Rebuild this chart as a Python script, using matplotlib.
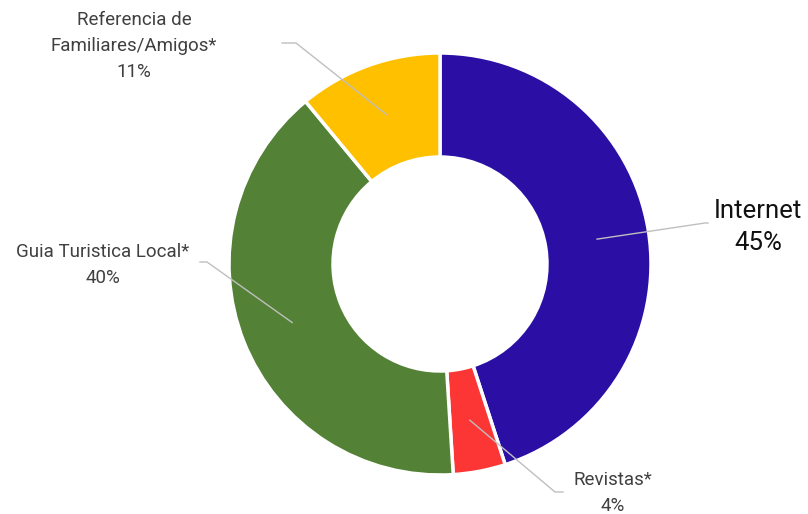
import numpy as np
import matplotlib.pyplot as plt

# data
labels = ['Internet', 'Revistas*', 'Guia Turistica Local*', 'Referencia de\nFamiliares/Amigos*']
values = [45, 4, 40, 11]
colors = ['#2B0FA5', '#FC3535', '#538135', '#FFC000']

W, H = 808, 514
fig = plt.figure(figsize=(W / 100, H / 100), dpi=100)
ax = fig.add_axes([0, 0, 1, 1])

cx, cy = 440, H - 264
R = 211
ring = 104

wedges, _ = ax.pie(values, colors=colors, startangle=90, counterclock=False,
                   center=(cx, cy), radius=R, frame=True,
                   wedgeprops=dict(width=ring, edgecolor='white', linewidth=2.5))
ax.set_xlim(0, W)
ax.set_ylim(0, H)
ax.set_aspect('equal')
ax.axis('off')

# label placement (image pixels, y downward)
elbows = [[(705, 223), (708, 223)],
          [(555, 492), (563, 492)],
          [(207, 262), (200, 262)],
          [(296, 43), (282, 43)]]
text_pos = [(758, 227), (613, 493), (103, 265), (134, 46)]
sizes = [18.5, 13.5, 13.5, 13.5]
spacing = [1.4, 1.6, 1.6, 1.6]
tcol = ['#111111', '#404040', '#404040', '#404040']

for i, w in enumerate(wedges):
    mid = np.deg2rad((w.theta1 + w.theta2) / 2)
    r_mid = R - ring / 2
    ax_pt = (cx + r_mid * np.cos(mid), cy + r_mid * np.sin(mid))
    xs = [ax_pt[0]] + [p[0] for p in elbows[i]]
    ys = [ax_pt[1]] + [H - p[1] for p in elbows[i]]
    ax.plot(xs, ys, color='#BFBFBF', lw=1)
    tx, ty = text_pos[i]
    ax.text(tx, H - ty, f'{labels[i]}\n{values[i]}%', ha='center', va='center',
            fontsize=sizes[i], color=tcol[i], family='Roboto',
            linespacing=spacing[i])

fig.savefig('out.png', dpi=100)
